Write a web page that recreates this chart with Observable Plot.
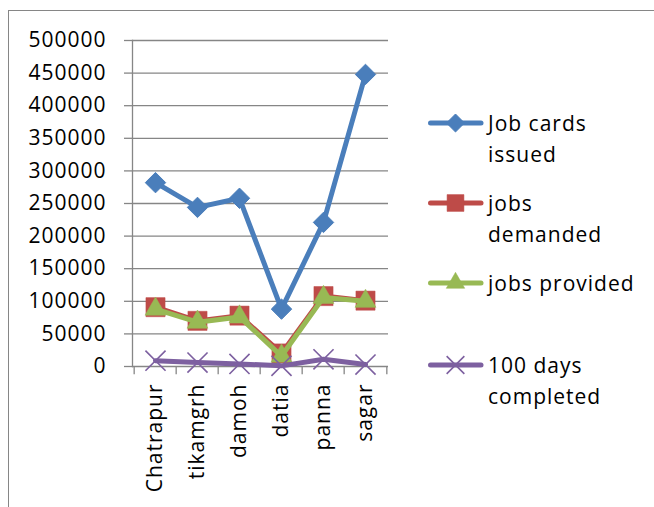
<!DOCTYPE html>
<html><head><meta charset="utf-8">
<script src="https://cdn.jsdelivr.net/npm/d3@7"></script>
<script src="https://cdn.jsdelivr.net/npm/@observablehq/plot@0.6"></script>
<style>
html,body{margin:0;padding:0;background:#fff;overflow:hidden;}
#wrap{position:relative;width:654px;height:507px;font-family:"Open Sans",sans-serif;color:#000;}
#frame{position:absolute;left:8px;top:10px;width:700px;height:600px;border:1.5px solid #868686;box-sizing:border-box;}
#chart{position:absolute;left:0;top:0;}
.ltxt{position:absolute;left:488px;font-size:21px;letter-spacing:1px;line-height:31px;white-space:nowrap;}
.lsym{position:absolute;left:426px;}
</style></head>
<body><div id="wrap"><div id="frame"></div><div id="chart"></div><div id="legend"></div></div>
<script>
const districts = ["Chatrapur", "tikamgrh", "damoh", "datia", "panna", "sagar"];
const jobCardsIssued = [282000, 244000, 258000, 88000, 221000, 448000];
const jobsDemanded = [91000, 70000, 78000, 20000, 108000, 101000];
const jobsProvided = [88000, 68000, 76000, 16000, 106000, 100000];
const days100Completed = [9000, 6000, 4000, 1000, 11000, 3000];
const yTicks = [0, 50000, 100000, 150000, 200000, 250000, 300000, 350000, 400000, 450000, 500000];
const seriesNames = ["Job cards issued", "jobs demanded", "jobs provided", "100 days completed"];
const legendLines = [["Job cards", "issued"], ["jobs", "demanded"], ["jobs provided"], ["100 days", "completed"]];
const colors = ["#4A7EBB", "#BE4B48", "#98B954", "#7D60A0"];
const symbols = ["diamond2", "square", "triangle", "times"];

const allValues = [jobCardsIssued, jobsDemanded, jobsProvided, days100Completed];
const data = [];
allValues.forEach((vals, s) => vals.forEach((v, i) => data.push({series: seriesNames[s], district: districts[i], value: v})));

const W = 654, H = 507, ML = 132, MR = 266, MT = 40, MB = 141;
const step = (W - ML - MR) / districts.length;
const grey = "#868686";
const symOpts = [
  {r: 9.2, fill: colors[0], stroke: colors[0], strokeWidth: 1},
  {r: 10.8, fill: colors[1], stroke: colors[1], strokeWidth: 0.5},
  {r: 7.8, fill: colors[2], stroke: colors[2], strokeWidth: 0.5},
  {r: 9.2, fill: "none", stroke: colors[3], strokeWidth: 1.6}
];

const marks = [
  Plot.gridY(yTicks, {stroke: grey, strokeOpacity: 1, strokeWidth: 1.3}),
  Plot.frame({anchor: "left", stroke: grey, strokeWidth: 1.3}),
  Plot.ruleX(districts, {x: d => d, y1: 0, y2: -12500, dx: -step / 2, stroke: grey, strokeWidth: 1.3}),
  Plot.ruleX(districts.slice(-1), {x: d => d, y1: 0, y2: -12500, dx: step / 2, stroke: grey, strokeWidth: 1.3}),
  Plot.axisY({ticks: yTicks, tickSize: 8, tickPadding: 18, stroke: grey, strokeWidth: 1.3, tickFormat: d => String(d), label: null}),
  Plot.axisX({tickSize: 0, tickPadding: 17, tickRotate: -90, label: null})
];
seriesNames.forEach((name, s) => {
  const sub = data.filter(d => d.series === name);
  marks.push(Plot.line(sub, {x: "district", y: "value", stroke: colors[s], strokeWidth: 5, strokeLinejoin: "round", strokeLinecap: "round"}));
  marks.push(Plot.dot(sub, {x: "district", y: "value", symbol: symbols[s], ...symOpts[s]}));
});

const chart = Plot.plot({
  width: W, height: H, marginLeft: ML, marginRight: MR, marginTop: MT, marginBottom: MB,
  style: {fontSize: "21px", letterSpacing: "1px", fontFamily: "'Open Sans', sans-serif", color: "#000", background: "transparent", overflow: "visible"},
  x: {type: "point", domain: districts, padding: 0.5},
  y: {domain: [0, 500000]},
  marks
});
document.getElementById("chart").appendChild(chart);

// legend
const legendY = [123, 203, 283, 365];
const legend = document.getElementById("legend");
const symMap = {diamond2: d3.symbolDiamond2, square: d3.symbolSquare, triangle: d3.symbolTriangle, times: d3.symbolTimes};
seriesNames.forEach((name, s) => {
  const y = legendY[s];
  const r = symOpts[s].r * 0.88;
  const svg = d3.create("svg").attr("class", "lsym").attr("width", 60).attr("height", 24)
    .style("top", (y - 12) + "px");
  svg.append("line").attr("x1", 4.5).attr("x2", 55).attr("y1", 12).attr("y2", 12)
    .attr("stroke", colors[s]).attr("stroke-width", 5).attr("stroke-linecap", "round");
  svg.append("path").attr("transform", "translate(29.5,12)")
    .attr("d", d3.symbol(symMap[symbols[s]], Math.PI * r * r)())
    .attr("fill", symOpts[s].fill).attr("stroke", colors[s]).attr("stroke-width", symOpts[s].strokeWidth);
  legend.appendChild(svg.node());
  const t = document.createElement("div");
  t.className = "ltxt";
  t.style.top = (y - 15.5) + "px";
  t.innerHTML = legendLines[s].map(l => `<div>${l}</div>`).join("");
  legend.appendChild(t);
});
</script>
</body></html>
